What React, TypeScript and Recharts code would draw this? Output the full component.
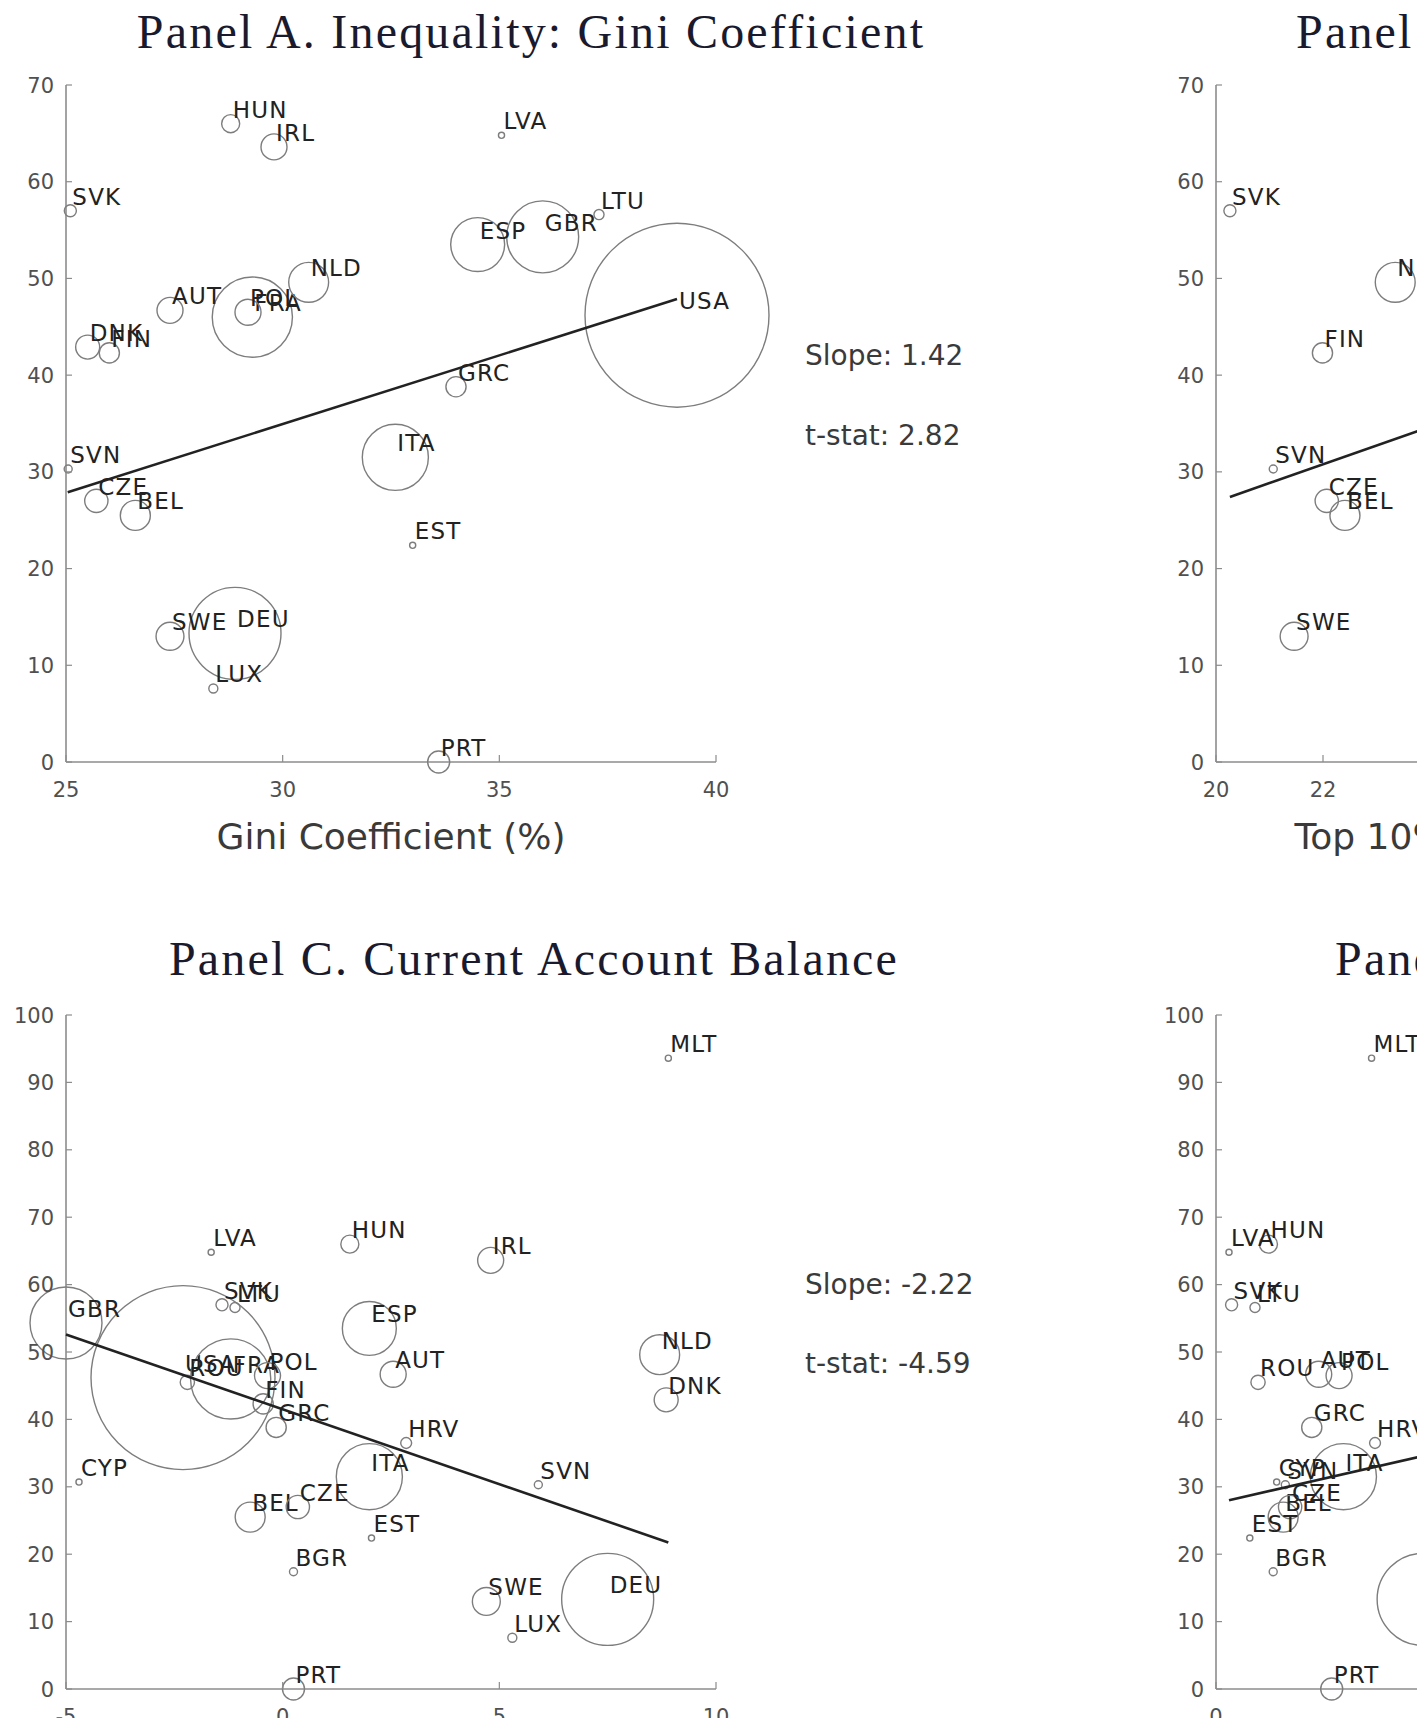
import { ScatterChart, Scatter, XAxis, YAxis } from "recharts";

// countries shown in the four panels
const countries = [
  "USA", "DEU", "FRA", "GBR", "ITA", "ESP", "NLD", "POL", "SWE", "BEL",
  "AUT", "IRL", "DNK", "CZE", "FIN", "PRT", "GRC", "HUN", "ROU", "SVK",
  "LTU", "LUX", "SVN", "BGR", "HRV", "LVA", "EST", "CYP", "MLT",
];

// vertical variable (same in every panel)
const outcome = [
  46.2, 13.3, 46.0, 54.3, 31.5, 53.5, 49.6, 46.5, 13.0, 25.5,
  46.7, 63.6, 42.9, 27.0, 42.3, 0, 38.8, 66.0, 45.5, 57.0,
  56.6, 7.6, 30.3, 17.4, 36.5, 64.8, 22.4, 30.7, 93.6,
];

// bubble weight, USA = 100
const weight = [
  100, 25, 19, 15.3, 12.9, 8.6, 4.7, 2.0, 2.3, 2.66,
  2.0, 2.0, 1.7, 1.6, 1.2, 1.43, 1.2, 0.96, 0.6, 0.43,
  0.3, 0.24, 0.19, 0.19, 0.35, 0.11, 0.11, 0.11, 0.11,
];

// Panel A: Gini coefficient (%)
const gini = [
  39.1, 28.9, 29.3, 36.0, 32.6, 34.5, 30.6, 29.2, 27.4, 26.6,
  27.4, 29.8, 25.5, 25.7, 26.0, 33.6, 34.0, 28.8, null, 25.1,
  37.3, 28.4, 25.05, null, null, 35.05, 33.0, null, null,
];

// Panel B: top 10% share (only the visible part of the panel)
const top10 = [
  null, null, null, null, null, null, 23.35, null, 21.46, 22.41,
  null, null, null, 22.07, 21.99, null, null, null, null, 20.26,
  null, null, 21.07, null, null, null, null, null, null,
];

// Panel C: current account balance
const currentAccount = [
  -2.3, 7.5, -1.2, -5.0, 2.0, 2.0, 8.7, -0.35, 4.7, -0.75,
  2.55, 4.8, 8.85, 0.35, -0.45, 0.25, -0.15, 1.55, -2.2, -1.4,
  -1.1, 5.3, 5.9, 0.25, 2.85, -1.65, 2.05, -4.7, 8.9,
];

// Panel D (only the visible part of the panel)
const panelDValue = [
  null, 4.78, null, null, 2.94, null, null, 2.84, null, 1.55,
  2.37, null, null, 1.71, null, 2.67, 2.21, 1.21, 0.97, 0.36,
  0.9, null, 1.6, 1.32, 3.67, 0.3, 0.78, 1.4, 3.59,
];

const ticksTop = [0, 10, 20, 30, 40, 50, 60, 70];
const ticksBottom = [0, 10, 20, 30, 40, 50, 60, 70, 80, 90, 100];
const giniTicks = [25, 30, 35, 40];
const top10Ticks = [20, 22, 24, 26, 28, 30, 32];
const caTicks = [-5, 0, 5, 10];
const panelDTicks = [0, 5, 10, 15];

const fitA = { slope: 1.42, tStat: 2.82, x0: 25.04, y0: 27.9, x1: 39.1 };
const fitB = { slope: 1.94, x0: 20.26, y0: 27.4, x1: 31 };
const fitC = { slope: -2.22, tStat: -4.59, x0: -5.0, y0: 52.6, x1: 8.9 };
const fitD = { slope: 1.47, x0: 0.3, y0: 28.0, x1: 12 };

const AXIS = "#8c8c8c";
const TICK_TEXT = "#505050";
const SANS = "DejaVu Sans";
const MAX_R = 92;

function XTick(props: any) {
  const { x, y, payload } = props;
  return (
    <g>
      <line x1={x} y1={y} x2={x} y2={y - 7} stroke={AXIS} strokeWidth={1.2} />
      <text x={x} y={y + 35} textAnchor="middle" fontSize={21} fontFamily={SANS} fill={TICK_TEXT}>
        {payload.value}
      </text>
    </g>
  );
}

function YTick(props: any) {
  const { x, y, payload } = props;
  return (
    <g>
      <line x1={x} y1={y} x2={x + 6} y2={y} stroke={AXIS} strokeWidth={1.2} />
      <text x={x - 12} y={y + 7.5} textAnchor="end" fontSize={21} fontFamily={SANS} fill={TICK_TEXT}>
        {payload.value}
      </text>
    </g>
  );
}

function Bubble(props: any) {
  const { cx, cy, payload } = props;
  const r = MAX_R * Math.sqrt(payload.w / 100);
  return (
    <g>
      <circle cx={cx} cy={cy} r={r} fill="none" stroke="#7d7d7d" strokeWidth={1.4} />
      <text x={cx + 2} y={cy - 6} fontSize={23} letterSpacing={1.2} fontFamily={SANS} fill="#222">
        {payload.code}
      </text>
    </g>
  );
}

function Panel({ left, top, width, plotHeight, xs, xDomain, xTicks, yDomain, yTicks, fit }: any) {
  const points = countries
    .map((code, i) => ({ code, x: xs[i], y: outcome[i], w: weight[i] }))
    .filter((p) => p.x != null);
  const fitLine = [
    { x: fit.x0, y: fit.y0 },
    { x: fit.x1, y: fit.y0 + fit.slope * (fit.x1 - fit.x0) },
  ];
  return (
    <div style={{ position: "absolute", left, top }}>
      <ScatterChart
        width={66 + width + 150}
        height={85 + plotHeight + 60}
        margin={{ top: 85, left: 65, right: 150, bottom: 59 }}
      >
        <XAxis
          type="number"
          dataKey="x"
          domain={xDomain}
          ticks={xTicks}
          interval={0}
          height={1}
          tickSize={0}
          tickMargin={0}
          tickLine={false}
          axisLine={{ stroke: AXIS, strokeWidth: 1.6 }}
          tick={XTick}
        />
        <YAxis
          type="number"
          dataKey="y"
          domain={yDomain}
          ticks={yTicks}
          interval={0}
          width={1}
          tickSize={0}
          tickMargin={0}
          tickLine={false}
          axisLine={{ stroke: AXIS, strokeWidth: 1.6 }}
          tick={YTick}
        />
        <Scatter data={points} shape={Bubble} isAnimationActive={false} />
        <Scatter
          data={fitLine}
          line={{ stroke: "#222", strokeWidth: 2.6 }}
          shape={() => <g />}
          isAnimationActive={false}
        />
      </ScatterChart>
    </div>
  );
}

export default function App() {
  const title = { fontFamily: "Liberation Serif", fontSize: 48, letterSpacing: 2.2, fill: "#1a1a2e" };
  const axisLabel = { fontFamily: SANS, fontSize: 36, fill: "#3a3a3a" };
  const stat = { fontFamily: SANS, fontSize: 28, fill: "#3a3a3a" };
  return (
    <div
      style={{
        position: "absolute",
        left: 0,
        top: 0,
        width: 1417,
        height: 1718,
        overflow: "hidden",
        background: "#fff",
      }}
    >
      <Panel left={0} top={0} width={650} plotHeight={677} xs={gini} xDomain={[25, 40]} xTicks={giniTicks} yDomain={[0, 70]} yTicks={ticksTop} fit={fitA} />
      <Panel left={1150} top={0} width={642} plotHeight={677} xs={top10} xDomain={[20, 32]} xTicks={top10Ticks} yDomain={[0, 70]} yTicks={ticksTop} fit={fitB} />
      <Panel left={0} top={930} width={650} plotHeight={674} xs={currentAccount} xDomain={[-5, 10]} xTicks={caTicks} yDomain={[0, 100]} yTicks={ticksBottom} fit={fitC} />
      <Panel left={1150} top={930} width={650} plotHeight={674} xs={panelDValue} xDomain={[0, 15]} xTicks={panelDTicks} yDomain={[0, 100]} yTicks={ticksBottom} fit={fitD} />
      <svg width={1417} height={1718} style={{ position: "absolute", left: 0, top: 0, pointerEvents: "none" }}>
        <text x={531} y={48} textAnchor="middle" {...title}>Panel A. Inequality: Gini Coefficient</text>
        <text x={1296} y={48} {...title}>Panel B. Inequality: Top 10% Income Share</text>
        <text x={534} y={975} textAnchor="middle" {...title}>Panel C. Current Account Balance</text>
        <text x={1335} y={975} {...title}>Panel D. Unemployment Rate</text>
        <text x={391} y={849} textAnchor="middle" {...axisLabel}>Gini Coefficient (%)</text>
        <text x={1537} y={849} textAnchor="middle" {...axisLabel}>Top 10% Income Share (%)</text>
        <text x={805} y={365} {...stat}>{`Slope: ${fitA.slope.toFixed(2)}`}</text>
        <text x={805} y={445} {...stat}>{`t-stat: ${fitA.tStat.toFixed(2)}`}</text>
        <text x={805} y={1294} {...stat}>{`Slope: ${fitC.slope.toFixed(2)}`}</text>
        <text x={805} y={1373} {...stat}>{`t-stat: ${fitC.tStat.toFixed(2)}`}</text>
      </svg>
    </div>
  );
}
